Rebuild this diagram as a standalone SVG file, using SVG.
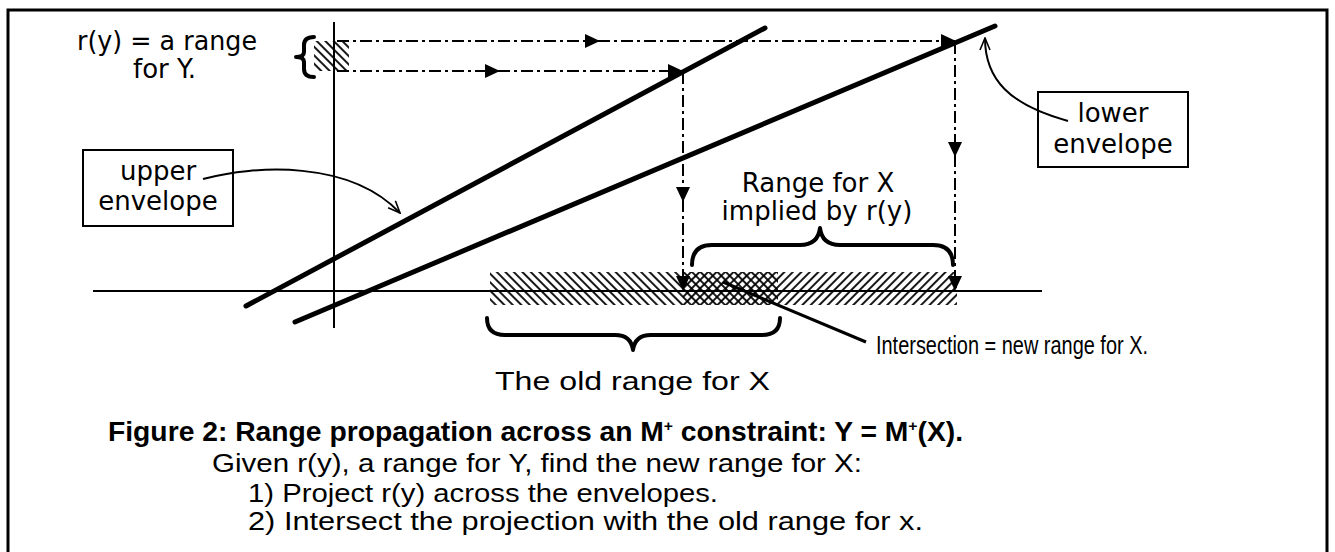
<svg xmlns="http://www.w3.org/2000/svg" width="1335" height="552" viewBox="0 0 1335 552">
<style>
.frame{fill:none;stroke:#000;stroke-width:3}
.axis{stroke:#000;stroke-width:2;fill:none}
.env{stroke:#000;stroke-width:5;stroke-linecap:round;fill:none}
.dd{stroke:#000;stroke-width:2;fill:none;stroke-dasharray:12 4 3 4}
.brace{stroke:#000;stroke-width:4;fill:none;stroke-linecap:round;stroke-linejoin:round}
.box{fill:#fff;stroke:#000;stroke-width:2}
.lbl{font-family:"DejaVu Sans",sans-serif;font-size:26px;fill:#000}
.cap{font-family:"Liberation Sans",Arial,sans-serif;font-size:26px;fill:#000}
.capb{font-family:"Liberation Sans",Arial,sans-serif;font-size:27px;font-weight:bold;fill:#000}
.curve{stroke:#000;stroke-width:2;fill:none}
</style>
<defs>
<marker id="ah" markerUnits="userSpaceOnUse" markerWidth="16" markerHeight="14" refX="15" refY="7" orient="auto">
<path d="M0,0 L15,7 L0,14 z" fill="#000"/>
</marker>
<marker id="oa" markerUnits="userSpaceOnUse" markerWidth="14" markerHeight="12" refX="13" refY="6" orient="auto">
<path d="M1,1 L13,6 L1,11" fill="none" stroke="#000" stroke-width="1.6"/>
</marker>
<pattern id="hb" width="6" height="6" patternUnits="userSpaceOnUse" patternTransform="rotate(-45)">
<line x1="3" y1="0" x2="3" y2="6" stroke="#000" stroke-width="1.8"/>
</pattern>
<pattern id="hf" width="6" height="6" patternUnits="userSpaceOnUse" patternTransform="rotate(45)">
<line x1="3" y1="0" x2="3" y2="6" stroke="#000" stroke-width="1.8"/>
</pattern>
</defs>

<path class="frame" d="M8,552 V10 H1327 V552"/>

<g id="axes">
<line class="axis" x1="334" y1="22" x2="334" y2="328"/>
<line class="axis" x1="93" y1="291" x2="1042" y2="291"/>
</g>

<g id="ry-range">
<rect x="314" y="41" width="35" height="30" fill="url(#hb)"/>
<path class="brace" d="M314,37 Q304,37 304,45 L304,52 Q304,57 296,57 Q304,57 304,62 L304,69 Q304,77 314,77"/>
<text class="lbl" x="77" y="50" textLength="180" lengthAdjust="spacingAndGlyphs">r(y) = a  range</text>
<text class="lbl" x="133" y="78">for Y.</text>
</g>

<g id="ranges">
<rect x="490" y="272" width="288" height="33" fill="url(#hb)"/>
<rect x="683" y="272" width="274" height="33" fill="url(#hf)"/>
</g>

<g id="envelopes">
<line class="env" x1="246" y1="306" x2="765" y2="28"/>
<line class="env" x1="295" y1="322" x2="995" y2="26"/>
</g>

<g id="upper-envelope-label">
<rect class="box" x="83" y="150" width="150" height="76"/>
<text class="lbl" x="158" y="180" text-anchor="middle">upper</text>
<text class="lbl" x="158" y="210" text-anchor="middle">envelope</text>
</g>

<g id="lower-envelope-label">
<rect class="box" x="1038" y="92" width="150" height="75"/>
<text class="lbl" x="1113" y="122" text-anchor="middle">lower</text>
<text class="lbl" x="1113" y="153" text-anchor="middle">envelope</text>
</g>

<g id="implied-range">
<path class="brace" d="M692,265 Q692,245 712,245 L800,245 Q818,245 820,228 Q822,245 840,245 L933,245 Q953,245 953,265"/>
<text class="lbl" x="818" y="192" text-anchor="middle" font-size="25">Range for X</text>
<text class="lbl" x="817" y="220" text-anchor="middle" font-size="25">implied by r(y)</text>
</g>

<g id="old-range">
<path class="brace" d="M487,318 Q487,335 505,335 L615,335 Q631,335 633,350 Q635,335 651,335 L762,335 Q780,335 780,318"/>
<text class="cap" x="495" y="390" font-size="29" textLength="275" lengthAdjust="spacingAndGlyphs">The old range for X</text>
</g>

<g id="intersection">
<text class="cap" x="876" y="354" font-size="28" textLength="272" lengthAdjust="spacingAndGlyphs">Intersection  =  new range for X.</text>
</g>

<g id="connectors">
<line class="dd" x1="337" y1="41" x2="600" y2="41" marker-end="url(#ah)"/>
<line class="dd" x1="598" y1="41" x2="956" y2="41" marker-end="url(#ah)"/>
<line class="dd" x1="337" y1="71" x2="500" y2="71" marker-end="url(#ah)"/>
<line class="dd" x1="498" y1="71" x2="683" y2="71" marker-end="url(#ah)"/>
<line class="dd" x1="683" y1="72" x2="683" y2="202" marker-end="url(#ah)"/>
<line class="dd" x1="683" y1="200" x2="683" y2="291" marker-end="url(#ah)"/>
<line class="dd" x1="955" y1="42" x2="955" y2="157" marker-end="url(#ah)"/>
<line class="dd" x1="955" y1="155" x2="955" y2="291" marker-end="url(#ah)"/>
<line stroke="#000" stroke-width="3" x1="723" y1="282" x2="866" y2="342"/>
<path class="curve" d="M203,179 C255,165 350,160 400,213" marker-end="url(#oa)"/>
<path class="curve" d="M1068,121 C1010,105 985,80 985,38" marker-end="url(#oa)"/>
</g>

<g id="caption">
<text class="capb" x="108" y="441" textLength="855" lengthAdjust="spacingAndGlyphs">Figure 2:  Range propagation across an M<tspan font-size="15" dy="-10">+</tspan><tspan dy="10"> constraint: Y = M</tspan><tspan font-size="15" dy="-10">+</tspan><tspan dy="10">(X).</tspan></text>
<text class="cap" x="212" y="472" font-size="24" textLength="650" lengthAdjust="spacingAndGlyphs">Given r(y), a range for Y, find the new range for X:</text>
<text class="cap" x="248" y="502" font-size="23" textLength="470" lengthAdjust="spacingAndGlyphs">1) Project r(y) across the envelopes.</text>
<text class="cap" x="248" y="530" font-size="23" textLength="675" lengthAdjust="spacingAndGlyphs">2) Intersect the projection with the old range for x.</text>
</g>
</svg>
